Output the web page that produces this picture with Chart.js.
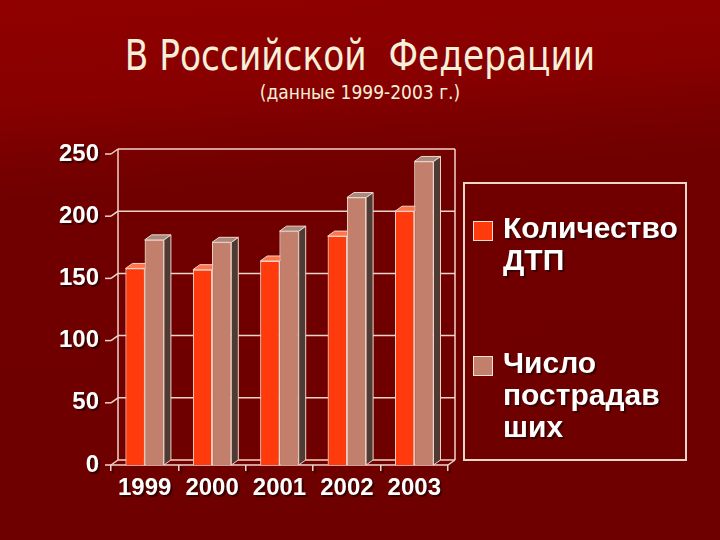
<!DOCTYPE html>
<html>
<head>
<meta charset="utf-8">
<script src="https://cdn.jsdelivr.net/npm/chart.js@4.4.1/dist/chart.umd.min.js"></script>
<style>
  html, body { margin: 0; padding: 0; }
  body {
    width: 720px; height: 540px; position: relative; overflow: hidden;
    background: linear-gradient(176deg, #900000 0%, #880000 18%, #7a0000 26%, #700000 34%, #6f0000 100%);
  }
  #chart { position: absolute; left: 0; top: 0; }
  .title {
    position: absolute; left: 0; width: 720px; text-align: center;
    color: #f6f0da; font-family: "DejaVu Sans Condensed", "DejaVu Sans", sans-serif;
    white-space: pre;
  }
  #t1 { top: 31px; font-size: 42px; transform: scaleX(0.91); }
  #t2 { top: 81px; font-size: 19px; }
  #legend {
    position: absolute; left: 463px; top: 182px; width: 224px; height: 279px;
    border: 2px solid #ecd6cc; box-sizing: border-box;
  }
  .item { position: absolute; left: 8px; }
  .sw { position: absolute; left: 0; width: 18px; height: 18px; border: 1px solid #f4e0d8; }
  .lbl {
    position: absolute; left: 30px; white-space: nowrap;
    font: bold 30px/32px "Liberation Sans", Arial, sans-serif; color: #fff;
    text-shadow: 2px 2px 1px rgba(40,0,0,0.7);
  }
</style>
</head>
<body>
<div class="title" id="t1">В Российской  Федерации</div>
<div class="title" id="t2">(данные 1999-2003 г.)</div>
<canvas id="chart" width="720" height="540"></canvas>
<div id="legend"></div>
<script>
// ---- data ----
const years     = ['1999', '2000', '2001', '2002', '2003'];
const accidents = [158, 157, 164, 184, 204];   // Количество ДТП
const injured   = [181, 179, 188, 215, 244];   // Число пострадавших
const seriesLines = [['Количество', 'ДТП'], ['Число', 'пострадав', 'ших']];
const seriesColors = ['#ff3a0c', '#c2806c'];

// 3D depth offset
const DX = 7, DY = -5;
const LINE = '#f0d4ca';

function seg(ctx, x1, y1, x2, y2) {
  ctx.beginPath(); ctx.moveTo(x1, y1); ctx.lineTo(x2, y2); ctx.stroke();
}
function poly(ctx, pts, fill) {
  ctx.beginPath();
  pts.forEach((p, i) => i ? ctx.lineTo(p[0], p[1]) : ctx.moveTo(p[0], p[1]));
  ctx.closePath();
  ctx.fillStyle = fill; ctx.fill(); ctx.stroke();
}

// dark drop shadow under the axis labels only
const labelShadow = {
  id: 'labelShadow',
  beforeDraw(chart) {
    const ctx = chart.ctx;
    ctx.shadowColor = 'rgba(40,0,0,0.8)';
    ctx.shadowOffsetX = 2; ctx.shadowOffsetY = 2; ctx.shadowBlur = 1;
  },
  beforeDatasetsDraw(chart) {
    const ctx = chart.ctx;
    ctx.shadowColor = 'transparent';
    ctx.shadowOffsetX = 0; ctx.shadowOffsetY = 0; ctx.shadowBlur = 0;
  }
};

// back wall, grid and floor
const wall3d = {
  id: 'wall3d',
  beforeDatasetsDraw(chart) {
    const { ctx, chartArea: a, scales: { y } } = chart;
    ctx.save();
    ctx.strokeStyle = LINE; ctx.lineWidth = 1.5;
    y.ticks.forEach(t => {
      const py = y.getPixelForValue(t.value);
      seg(ctx, a.left + DX, py + DY, a.right + DX, py + DY);
      seg(ctx, a.left - 6, py, a.left, py);
      seg(ctx, a.left, py, a.left + DX, py + DY);
    });
    seg(ctx, a.left + DX, a.top + DY, a.left + DX, a.bottom + DY);
    seg(ctx, a.right + DX, a.top + DY, a.right + DX, a.bottom + DY);
    seg(ctx, a.left, a.bottom, a.right, a.bottom);
    seg(ctx, a.right, a.bottom, a.right + DX, a.bottom + DY);
    ctx.restore();
  }
};

// redraw bars left to right with their top and side faces
const SIDE = ['#8c1800', '#4e3c34'];
const TOP  = ['#ff7448', '#a88a7c'];
const bars3d = {
  id: 'bars3d',
  afterDatasetsDraw(chart) {
    const ctx = chart.ctx;
    const metas = [0, 1].map(i => chart.getDatasetMeta(i));
    ctx.save();
    years.forEach((_, j) => {
      metas.forEach((meta, i) => {
        const el = meta.data[j];
        el.draw(ctx, chart.chartArea);
        const { x, y, width, base } = el.getProps(['x', 'y', 'width', 'base'], true);
        const l = x - width / 2, r = x + width / 2;
        ctx.strokeStyle = LINE; ctx.lineWidth = 1;
        poly(ctx, [[r, y], [r + DX, y + DY], [r + DX, base + DY], [r, base]], SIDE[i]);
        poly(ctx, [[l, y], [r, y], [r + DX, y + DY], [l + DX, y + DY]], TOP[i]);
      });
    });
    ctx.restore();
  }
};

const tickFont = { family: 'Liberation Sans', size: 24, weight: 'bold' };

new Chart(document.getElementById('chart'), {
  type: 'bar',
  data: {
    labels: years,
    datasets: [
      { label: 'Количество ДТП', data: accidents, backgroundColor: seriesColors[0],
        borderColor: LINE, borderWidth: 1 },
      { label: 'Число пострадавших', data: injured, backgroundColor: seriesColors[1],
        borderColor: LINE, borderWidth: 1 }
    ]
  },
  options: {
    responsive: false,
    devicePixelRatio: 1,
    animation: false,
    layout: { padding: { left: 0, top: 154, right: 272, bottom: 0 } },
    datasets: { bar: { categoryPercentage: 0.57, barPercentage: 1 } },
    plugins: { legend: { display: false }, tooltip: { enabled: false } },
    scales: {
      x: {
        afterFit: s => { s.height = 75; },
        grid: { drawOnChartArea: false, tickLength: 6, color: LINE, lineWidth: 1.5 },
        border: { display: false },
        ticks: { color: '#fff', font: tickFont, padding: 3 }
      },
      y: {
        min: 0, max: 250,
        afterFit: s => { s.width = 111; },
        grid: { display: false },
        border: { display: false },
        ticks: { stepSize: 50, color: '#fff', font: tickFont, padding: 4 }
      }
    }
  },
  plugins: [labelShadow, wall3d, bars3d]
});

// legend
const legend = document.getElementById('legend');
const itemTops = [28, 163];
seriesLines.forEach((lines, i) => {
  const item = document.createElement('div');
  item.className = 'item';
  item.style.top = itemTops[i] + 'px';
  item.innerHTML = `<div class="sw" style="top:9px;background:${seriesColors[i]}"></div>` +
    `<div class="lbl">${lines.join('<br>')}</div>`;
  legend.appendChild(item);
});
</script>
</body>
</html>
